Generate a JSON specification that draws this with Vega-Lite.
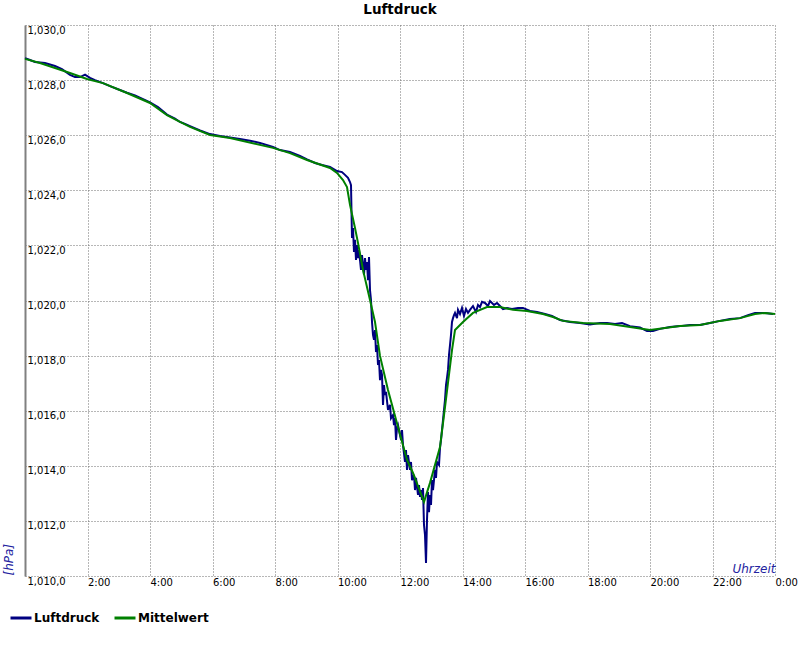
{
  "$schema": "https://vega.github.io/schema/vega-lite/v6.json",
  "width": 750,
  "height": 551,
  "autosize": {"type": "none"},
  "padding": {"left": 25, "top": 25, "right": 25, "bottom": 74},
  "background": "white",
  "title": {"text": "Luftdruck", "font": "DejaVu Sans", "fontSize": 13.5, "fontWeight": "bold", "color": "#000000", "anchor": "middle", "offset": 9},
  "config": {"view": {"stroke": null}},
  "datasets": {
    "luftdruck": [
      {"t":0,"p":1028.80},{"t":0.16,"p":1028.73},{"t":0.32,"p":1028.66},{"t":0.64,"p":1028.62},{"t":0.96,"p":1028.51},{"t":1.184,"p":1028.40},{"t":1.44,"p":1028.19},{"t":1.6,"p":1028.11},{"t":1.76,"p":1028.11},{"t":1.92,"p":1028.20},{"t":2.08,"p":1028.08},{"t":2.24,"p":1028.00},{"t":2.496,"p":1027.89},{"t":2.72,"p":1027.78},{"t":2.976,"p":1027.67},{"t":3.264,"p":1027.54},{"t":3.52,"p":1027.44},{"t":3.744,"p":1027.33},{"t":4.0,"p":1027.19},{"t":4.256,"p":1027.02},{"t":4.544,"p":1026.75},{"t":4.8,"p":1026.60},{"t":4.96,"p":1026.48},{"t":5.12,"p":1026.41},{"t":5.28,"p":1026.33},{"t":5.6,"p":1026.17},{"t":5.92,"p":1026.04},{"t":6.24,"p":1025.97},{"t":6.56,"p":1025.92},{"t":6.88,"p":1025.86},{"t":7.2,"p":1025.80},{"t":7.52,"p":1025.72},{"t":7.936,"p":1025.57},{"t":8.16,"p":1025.46},{"t":8.48,"p":1025.39},{"t":8.8,"p":1025.25},{"t":9.024,"p":1025.12},{"t":9.28,"p":1024.99},{"t":9.504,"p":1024.92},{"t":9.76,"p":1024.85},{"t":9.984,"p":1024.70},{"t":10.144,"p":1024.66},{"t":10.24,"p":1024.56},{"t":10.336,"p":1024.45},{"t":10.4,"p":1024.30},{"t":10.432,"p":1024.19},
      {"t":10.464,"p":1022.27},{"t":10.496,"p":1022.63},{"t":10.528,"p":1021.76},{"t":10.56,"p":1022.20},{"t":10.592,"p":1021.47},{"t":10.624,"p":1022.01},{"t":10.656,"p":1021.54},{"t":10.688,"p":1021.83},{"t":10.752,"p":1021.11},{"t":10.784,"p":1021.65},{"t":10.848,"p":1020.93},{"t":10.88,"p":1021.54},{"t":10.912,"p":1021.11},{"t":10.944,"p":1021.40},{"t":10.976,"p":1020.74},{"t":11.008,"p":1021.58},{"t":11.04,"p":1020.38},{"t":11.072,"p":1020.02},{"t":11.104,"p":1019.22},{"t":11.136,"p":1018.75},{"t":11.168,"p":1018.57},{"t":11.2,"p":1018.93},{"t":11.232,"p":1018.13},{"t":11.264,"p":1018.38},{"t":11.296,"p":1017.66},{"t":11.328,"p":1017.84},{"t":11.36,"p":1017.11},{"t":11.392,"p":1017.48},{"t":11.424,"p":1017.30},{"t":11.456,"p":1016.21},{"t":11.488,"p":1016.93},{"t":11.52,"p":1016.57},{"t":11.552,"p":1016.68},{"t":11.616,"p":1016.03},{"t":11.68,"p":1016.21},{"t":11.712,"p":1015.73},{"t":11.776,"p":1015.84},{"t":11.808,"p":1015.48},{"t":11.84,"p":1015.73},{"t":11.872,"p":1014.94},{"t":11.904,"p":1015.37},{"t":11.936,"p":1015.48},{"t":12.0,"p":1015.12},{"t":12.032,"p":1014.94},{"t":12.064,"p":1015.30},{"t":12.096,"p":1014.75},{"t":12.16,"p":1014.14},{"t":12.192,"p":1014.57},{"t":12.224,"p":1013.85},{"t":12.256,"p":1014.39},{"t":12.32,"p":1013.85},{"t":12.352,"p":1014.14},{"t":12.384,"p":1013.48},{"t":12.448,"p":1013.67},{"t":12.48,"p":1013.12},{"t":12.512,"p":1013.56},{"t":12.576,"p":1012.94},{"t":12.608,"p":1013.30},{"t":12.64,"p":1012.87},{"t":12.672,"p":1013.12},{"t":12.704,"p":1012.76},{"t":12.736,"p":1013.19},{"t":12.768,"p":1011.85},{"t":12.8,"p":1011.49},{"t":12.832,"p":1010.47},{"t":12.864,"p":1012.03},{"t":12.896,"p":1013.05},{"t":12.928,"p":1012.32},{"t":12.96,"p":1012.94},{"t":12.992,"p":1012.58},{"t":13.024,"p":1013.48},{"t":13.056,"p":1013.12},{"t":13.12,"p":1013.85},{"t":13.152,"p":1013.56},{"t":13.184,"p":1014.14},{"t":13.248,"p":1014.03},{"t":13.28,"p":1014.65},{"t":13.312,"p":1014.94},{"t":13.344,"p":1015.30},{"t":13.376,"p":1015.66},{"t":13.408,"p":1016.03},{"t":13.44,"p":1016.39},{"t":13.472,"p":1016.93},{"t":13.504,"p":1017.19},{"t":13.536,"p":1017.48},{"t":13.568,"p":1018.02},{"t":13.6,"p":1018.38},{"t":13.632,"p":1018.75},{"t":13.664,"p":1019.22},{"t":13.696,"p":1019.36},{"t":13.728,"p":1019.47},{"t":13.76,"p":1019.55},{"t":13.824,"p":1019.36},{"t":13.856,"p":1019.66},{"t":13.92,"p":1019.51},{"t":13.984,"p":1019.73},{"t":14.048,"p":1019.44},{"t":14.112,"p":1019.69},{"t":14.176,"p":1019.55},{"t":14.24,"p":1019.66},{"t":14.336,"p":1019.80},{"t":14.432,"p":1019.58},{"t":14.496,"p":1019.84},{"t":14.56,"p":1019.76},{"t":14.624,"p":1019.95},{"t":14.72,"p":1019.91},{"t":14.816,"p":1019.80},{"t":14.88,"p":1019.98},{"t":15.008,"p":1019.84},{"t":15.104,"p":1019.91},{"t":15.2,"p":1019.80},{"t":15.296,"p":1019.69},{"t":15.424,"p":1019.73},{"t":15.584,"p":1019.69},{"t":15.776,"p":1019.73},{"t":15.936,"p":1019.73},{"t":16.16,"p":1019.62},{"t":16.384,"p":1019.58},{"t":16.64,"p":1019.51},{"t":16.864,"p":1019.44},{"t":17.12,"p":1019.29},{"t":17.44,"p":1019.22},{"t":17.76,"p":1019.18},{"t":18.08,"p":1019.13},{"t":18.4,"p":1019.18},{"t":18.624,"p":1019.18},{"t":18.88,"p":1019.15},{"t":19.104,"p":1019.18},{"t":19.36,"p":1019.07},{"t":19.68,"p":1019.02},{"t":19.904,"p":1018.89},{"t":20.096,"p":1018.89},{"t":20.32,"p":1018.97},{"t":20.64,"p":1019.04},{"t":20.96,"p":1019.07},{"t":21.28,"p":1019.11},{"t":21.6,"p":1019.11},{"t":21.92,"p":1019.18},{"t":22.24,"p":1019.26},{"t":22.56,"p":1019.33},{"t":22.88,"p":1019.36},{"t":23.136,"p":1019.47},{"t":23.36,"p":1019.55},{"t":23.68,"p":1019.55},{"t":23.936,"p":1019.51}
    ],
    "mittelwert": [
      {"t":0,"p":1028.77},{"t":0.48,"p":1028.62},{"t":1.44,"p":1028.26},{"t":1.984,"p":1028.04},{"t":2.496,"p":1027.89},{"t":3.264,"p":1027.53},{"t":4.0,"p":1027.17},{"t":4.544,"p":1026.73},{"t":4.96,"p":1026.48},{"t":5.28,"p":1026.30},{"t":5.92,"p":1026.01},{"t":6.56,"p":1025.90},{"t":7.936,"p":1025.54},{"t":8.48,"p":1025.35},{"t":9.024,"p":1025.10},{"t":9.76,"p":1024.81},{"t":9.984,"p":1024.63},{"t":10.176,"p":1024.37},{"t":10.304,"p":1024.12},{"t":10.4,"p":1023.47},{"t":10.56,"p":1022.63},{"t":10.656,"p":1022.09},{"t":10.816,"p":1021.11},{"t":11.04,"p":1020.02},{"t":11.2,"p":1019.22},{"t":11.36,"p":1017.99},{"t":11.616,"p":1016.75},{"t":11.936,"p":1015.41},{"t":12.224,"p":1014.21},{"t":12.416,"p":1013.74},{"t":12.768,"p":1012.69},{"t":12.96,"p":1013.38},{"t":13.28,"p":1014.68},{"t":13.44,"p":1016.13},{"t":13.664,"p":1018.20},{"t":13.76,"p":1018.93},{"t":14.016,"p":1019.22},{"t":14.336,"p":1019.55},{"t":14.784,"p":1019.76},{"t":15.2,"p":1019.76},{"t":15.616,"p":1019.66},{"t":16.064,"p":1019.62},{"t":16.576,"p":1019.51},{"t":16.896,"p":1019.40},{"t":17.216,"p":1019.26},{"t":17.856,"p":1019.18},{"t":18.72,"p":1019.15},{"t":19.36,"p":1019.04},{"t":20.0,"p":1018.93},{"t":20.48,"p":1019.00},{"t":20.96,"p":1019.07},{"t":21.6,"p":1019.11},{"t":22.24,"p":1019.26},{"t":22.88,"p":1019.36},{"t":23.36,"p":1019.51},{"t":23.68,"p":1019.55},{"t":24.0,"p":1019.51}
    ]
  },
  "encoding": {
    "x": {
      "field": "t", "type": "quantitative",
      "scale": {"domain": [0, 24], "nice": false, "zero": false},
      "axis": {
        "values": [2, 4, 6, 8, 10, 12, 14, 16, 18, 20, 22, 24],
        "labelExpr": "(datum.value % 24) + ':00'",
        "title": "Uhrzeit",
        "domain": false, "ticks": false,
        "grid": true, "gridDash": [1, 2], "gridColor": "#6e6e6e", "gridOpacity": 1, "gridWidth": 1,
        "labelAlign": "left", "labelBaseline": "top", "labelPadding": 1,
        "labelFont": "DejaVu Sans", "labelFontSize": 10, "labelColor": "#000000",
        "labelBound": false, "labelOverlap": false, "labelFlush": false,
        "titleX": 750, "titleY": -4, "titleAlign": "right", "titleBaseline": "alphabetic",
        "titleFont": "DejaVu Sans", "titleFontSize": 12, "titleFontStyle": "italic", "titleFontWeight": "normal", "titleColor": "#2323a0"
      }
    },
    "y": {
      "field": "p", "type": "quantitative",
      "scale": {"domain": [1010, 1030], "nice": false, "zero": false},
      "axis": {
        "values": [1010, 1012, 1014, 1016, 1018, 1020, 1022, 1024, 1026, 1028, 1030],
        "labelExpr": "replace(format(datum.value, ',.1f'), '.', ',')",
        "title": "[hPa]",
        "domain": true, "domainColor": "#808080", "domainWidth": 2,
        "ticks": false,
        "grid": true, "gridDash": [1, 2], "gridColor": "#6e6e6e", "gridOpacity": 1, "gridWidth": 1,
        "labelAlign": "left", "labelBaseline": "top", "labelPadding": -2, "labelOffset": 0,
        "labelFont": "DejaVu Sans", "labelFontSize": 10, "labelColor": "#000000",
        "labelBound": false, "labelOverlap": false, "labelFlush": false,
        "titleX": -17, "titleY": 550, "titleAngle": -90, "titleAlign": "left", "titleBaseline": "middle",
        "titleFont": "DejaVu Sans", "titleFontSize": 12, "titleFontStyle": "italic", "titleFontWeight": "normal", "titleColor": "#2323a0"
      }
    }
  },
  "layer": [
    {
      "data": {"name": "luftdruck"},
      "mark": {"type": "line", "strokeWidth": 2},
      "encoding": {
        "color": {
          "datum": "Luftdruck", "type": "nominal",
          "scale": {"domain": ["Luftdruck", "Mittelwert"], "range": ["#000080", "#008000"]},
          "legend": {
            "orient": "none", "legendX": -16, "legendY": 581, "direction": "horizontal", "title": null,
            "symbolType": "stroke", "symbolSize": 441, "symbolStrokeWidth": 3,
            "labelFont": "DejaVu Sans", "labelFontSize": 12, "labelFontWeight": "bold", "labelColor": "#000000",
            "labelOffset": 1, "columnPadding": 8, "padding": 0
          }
        }
      }
    },
    {
      "data": {"name": "mittelwert"},
      "mark": {"type": "line", "strokeWidth": 2},
      "encoding": {
        "color": {"datum": "Mittelwert", "type": "nominal"}
      }
    }
  ]
}
